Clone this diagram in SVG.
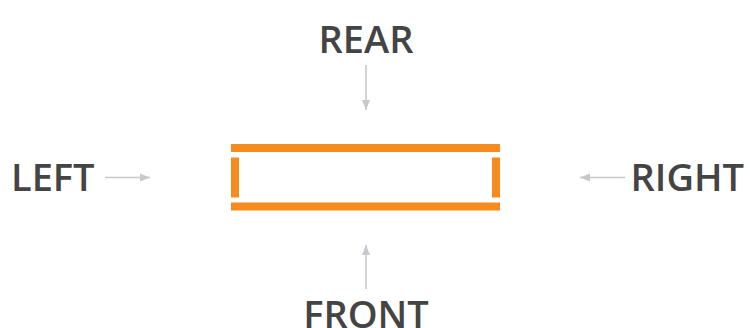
<svg xmlns="http://www.w3.org/2000/svg" width="750" height="328" viewBox="0 0 750 328">
<defs>
<style>
.lbl{font-family:"Open Sans","Liberation Sans",sans-serif;font-weight:600;font-size:38px;fill:#444444;}
.bar{fill:#F68B1F;}
.arr{stroke:#C8C8CC;stroke-width:1.6;fill:none;marker-end:url(#ah);}
</style>
<marker id="ah" markerWidth="10" markerHeight="10" viewBox="0 0 10 10" refX="10" refY="5" orient="auto" markerUnits="userSpaceOnUse">
<path d="M0,1 L10,5 L0,9 Z" fill="#C8C8CC"/>
</marker>
</defs>
<rect width="750" height="328" fill="#ffffff"/>
<g id="box">
<rect class="bar" x="231" y="144" width="269" height="8"/>
<rect class="bar" x="231" y="202.5" width="269" height="8"/>
<rect class="bar" x="231" y="157.5" width="8" height="40"/>
<rect class="bar" x="492" y="157.5" width="8" height="40"/>
</g>
<g id="rear"><text class="lbl" x="366" y="53" text-anchor="middle">REAR</text></g>
<g id="left"><text class="lbl" x="11" y="191">LEFT</text></g>
<g id="right"><text class="lbl" x="744" y="191" text-anchor="end">RIGHT</text></g>
<g id="front"><text class="lbl" x="366" y="328" text-anchor="middle">FRONT</text></g>
<g id="connectors">
<line class="arr" x1="366" y1="65" x2="366" y2="110"/>
<line class="arr" x1="105" y1="177.5" x2="150" y2="177.5"/>
<line class="arr" x1="625" y1="177.5" x2="580" y2="177.5"/>
<line class="arr" x1="366" y1="289" x2="366" y2="245"/>
</g>
</svg>
